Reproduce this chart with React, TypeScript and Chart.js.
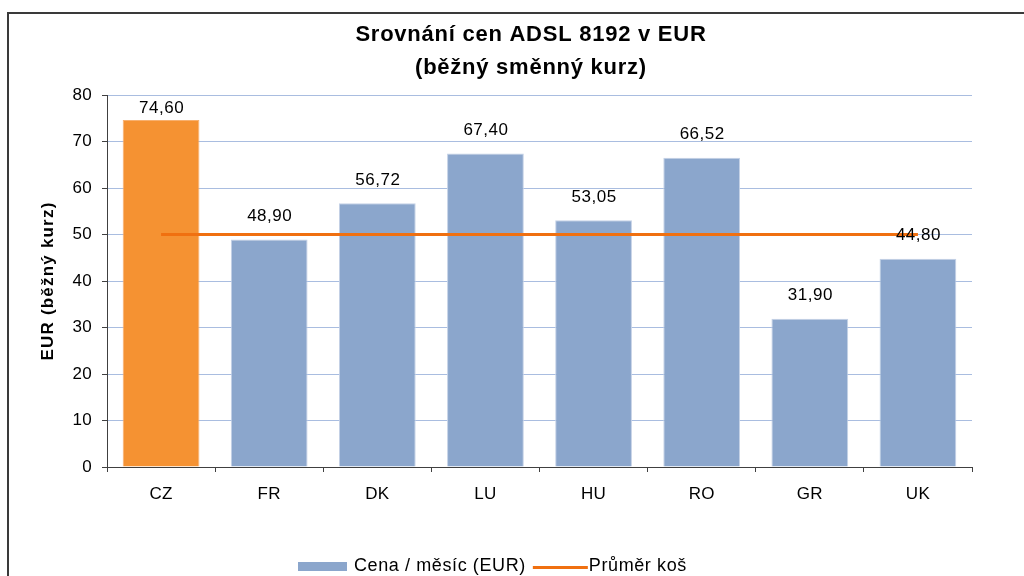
import React, { useEffect, useRef } from "react";
import { Chart, registerables } from "chart.js";

Chart.register(...registerables);

const CATEGORIES = ["CZ", "FR", "DK", "LU", "HU", "RO", "GR", "UK"];
const PRICES = [74.6, 48.9, 56.72, 67.4, 53.05, 66.52, 31.9, 44.8];
const AVERAGE = [50, 50, 50, 50, 50, 50, 50, 50];
const Y_MIN = 0;
const Y_MAX = 80;
const Y_STEP = 10;
const TITLE_LINES = ["Srovnání cen ADSL 8192 v EUR", "(běžný směnný kurz)"];
const Y_TITLE = "EUR (běžný kurz)";
const SERIES_NAMES = ["Cena / měsíc (EUR)", "Průměr koš"];
const HIGHLIGHT = "CZ";

const FONT = "'Liberation Sans', Arial, sans-serif";
const BLUE = "#8ba6cc";
const BLUE_EDGE = "#c4d1e6";
const ORANGE = "#f59232";
const ORANGE_EDGE = "#f8b06e";
const LINE = "#f07010";
const GRID = "#a9bde0";
const AXIS = "#404040";

const fmt = (v: number) => v.toFixed(2).replace(".", ",");

const textPlugin = {
  id: "customText",
  beforeDraw(chart: any) {
    chart.ctx.letterSpacing = "0.3px";
  },
  afterDatasetsDraw(chart: any) {
    const ctx = chart.ctx;
    ctx.save();
    ctx.font = `17px ${FONT}`;
    ctx.letterSpacing = "0.5px";
    ctx.fillStyle = "#000";
    ctx.textAlign = "center";
    ctx.textBaseline = "middle";
    const meta = chart.getDatasetMeta(0);
    meta.data.forEach((bar: any, i: number) => {
      const y = Math.max(bar.y - 23, chart.chartArea.top + 13);
      ctx.fillText(fmt(PRICES[i]), bar.x + 0.5, y);
    });
    ctx.restore();
  },
  afterDraw(chart: any) {
    const ctx = chart.ctx;
    ctx.save();
    // Title
    ctx.fillStyle = "#000";
    ctx.font = `bold 22px ${FONT}`;
    ctx.letterSpacing = "0.75px";
    ctx.textAlign = "center";
    ctx.textBaseline = "alphabetic";
    ctx.fillText(TITLE_LINES[0], 522, 27);
    ctx.fillText(TITLE_LINES[1], 522, 60);

    // Y axis title
    ctx.save();
    ctx.font = `bold 17px ${FONT}`;
    ctx.letterSpacing = "1.2px";
    ctx.translate(39, (chart.chartArea.top + chart.chartArea.bottom) / 2);
    ctx.rotate(-Math.PI / 2);
    ctx.textAlign = "center";
    ctx.textBaseline = "middle";
    ctx.fillText(Y_TITLE, 0, 0);
    ctx.restore();

    // Legend
    const cy = 552;
    let x = 289;
    ctx.fillStyle = BLUE;
    ctx.fillRect(x, cy - 4, 49, 9);
    x += 49 + 7;
    ctx.font = `18px ${FONT}`;
    ctx.letterSpacing = "0.6px";
    ctx.textAlign = "left";
    ctx.textBaseline = "middle";
    ctx.fillStyle = "#000";
    ctx.fillText(SERIES_NAMES[0], x, cy);
    x += ctx.measureText(SERIES_NAMES[0]).width + 7;
    ctx.strokeStyle = LINE;
    ctx.lineWidth = 3;
    ctx.beginPath();
    ctx.moveTo(x, cy + 1.5);
    ctx.lineTo(x + 55, cy + 1.5);
    ctx.stroke();
    x += 56;
    ctx.fillText(SERIES_NAMES[1], x, cy);
    ctx.restore();
  },
};

export default function App() {
  const ref = useRef<HTMLCanvasElement>(null);

  useEffect(() => {
    const chart = new Chart(ref.current as HTMLCanvasElement, {
      type: "bar",
      data: {
        labels: CATEGORIES,
        datasets: [
          {
            type: "bar",
            label: SERIES_NAMES[0],
            data: PRICES,
            backgroundColor: CATEGORIES.map((c) => (c === HIGHLIGHT ? ORANGE : BLUE)),
            borderColor: CATEGORIES.map((c) => (c === HIGHLIGHT ? ORANGE_EDGE : BLUE_EDGE)),
            borderWidth: 1,
            barPercentage: 0.71,
            categoryPercentage: 1.0,
            order: 1,
          } as any,
          {
            type: "line",
            label: SERIES_NAMES[1],
            data: AVERAGE,
            borderColor: LINE,
            backgroundColor: LINE,
            borderWidth: 3,
            pointRadius: 0,
            fill: false,
            order: 0,
          } as any,
        ],
      },
      options: {
        animation: false,
        responsive: false,
        layout: { padding: { left: 0, right: 137, top: 81, bottom: 0 } },
        plugins: {
          legend: { display: false },
          title: { display: false },
          tooltip: { enabled: false },
        },
        scales: {
          x: {
            grid: {
              display: true,
              drawOnChartArea: false,
              offset: true,
              color: AXIS,
              tickLength: 5,
            },
            border: { color: AXIS, width: 1 },
            ticks: { color: "#000", font: { family: FONT, size: 17 }, padding: 12 },
            afterFit: (s: any) => {
              s.height = 147;
            },
          },
          y: {
            min: Y_MIN,
            max: Y_MAX,
            ticks: {
              stepSize: Y_STEP,
              color: "#000",
              font: { family: FONT, size: 17 },
              padding: 10,
            },
            grid: { color: GRID, tickColor: AXIS, tickLength: 5, lineWidth: 1 },
            border: { color: AXIS, width: 1 },
            afterFit: (s: any) => {
              s.width = 98;
            },
          },
        },
      } as any,
      plugins: [textPlugin],
    });
    return () => chart.destroy();
  }, []);

  return (
    <div
      style={{
        position: "fixed",
        left: 0,
        top: 0,
        width: 1024,
        height: 576,
        overflow: "hidden",
        background: "#fff",
      }}
    >
      <div
        style={{
          position: "absolute",
          left: 7,
          top: 12,
          width: 1150,
          height: 700,
          border: "2px solid #3a3a3a",
        }}
      >
        <canvas
          ref={ref}
          width={1100}
          height={600}
          style={{ position: "absolute", left: 0, top: 0, width: 1100, height: 600 }}
        />
      </div>
    </div>
  );
}
